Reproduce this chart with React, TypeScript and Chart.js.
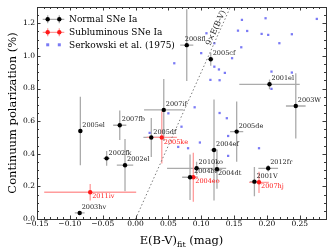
import React, { useEffect, useRef } from 'react';
import { Chart, registerables } from 'chart.js';

Chart.register(...registerables);

// ---- data ----
const normalNames = ['2005el', '2007fb', '2002fk', '2002el', '2003hv', '2005df', '2007if', '2008fl', '2005cf', '2001el', '2003W', '2005de', '2004ef', '2010ko', '2004br', '2004dt', '2012fr', '2001V'];
const normalEBV = [-0.084, -0.024, -0.044, -0.016, -0.085, 0.024, 0.043, 0.078, 0.1145, 0.204, 0.244, 0.154, 0.1195, 0.093, 0.083, 0.124, 0.202, 0.181];
const normalPol = [0.54, 0.575, 0.372, 0.33, 0.037, 0.5, 0.669, 1.066, 0.98, 0.826, 0.693, 0.536, 0.423, 0.311, 0.256, 0.305, 0.311, 0.229];
const normalEBVErr = [0.003, 0.01, 0.005, 0.0125, 0.0075, 0.012, 0.03, 0.01, 0.004, 0.046, 0.015, 0.01, 0.005, 0.045, 0.012, 0.008, 0.015, 0.007];
const normalPolErr = [0.21, 0.09, 0.045, 0.16, 0.01, 0.12, 0.19, 0.22, 0.04, 0.03, 0.2, 0.185, 0.31, 0.04, 0.14, 0.12, 0.02, 0.09];

const subNames = ['2011iv', '2005ke', '2004eo', '2007hj'];
const subEBV = [-0.069, 0.04, 0.088, 0.188];
const subPol = [0.164, 0.5, 0.256, 0.225];
const subEBVErr = [0.07, 0.023, 0.006, 0.015];
const subPolErr = [0.05, 0.16, 0.15, 0.065];

const serkowskiEBV = [0.108, 0.12, 0.1, 0.059, 0.12, 0.127, 0.136, 0.114, 0.128, 0.156, 0.09, 0.05, 0.07, 0.128, 0.139, 0.162, 0.198, 0.276, 0.17, 0.192, 0.202, 0.238, 0.219, 0.161, 0.147, 0.207, 0.238, 0.207, 0.141, 0.141, 0.188, 0.098, 0.08, 0.065, 0.0215];
const serkowskiPol = [1.139, 1.078, 1.017, 0.955, 0.934, 0.917, 0.896, 0.853, 0.851, 1.155, 0.685, 0.648, 0.566, 0.65, 0.618, 1.221, 1.231, 1.227, 1.153, 1.135, 1.129, 1.133, 1.078, 1.053, 0.986, 0.904, 0.898, 0.798, 0.509, 0.387, 0.434, 0.469, 0.434, 0.442, 0.528];

const serkowskiSlope = 9;
const xMin = -0.15;
const xMax = 0.29;
const yMin = 0;
const yMax = 1.3;
const xStep = 0.05;
const yStep = 0.2;

const legendLabels = ['Normal SNe Ia', 'Subluminous SNe Ia', 'Serkowski et al. (1975)'];
const lineLabel = '9×E(B-V)';

// ---- styles ----
const SERIF = '"DejaVu Serif", serif';
const GREY_ERR = '#ababab';
const RED_ERR = '#ff9c9c';
const RED = '#ff1a1a';
const BLUE = 'rgb(122,122,245)';
const labelNudge: Record<string, [number, number]> = {
  '2008fl': [-2, -5.5],
  '2004dt': [1, 4],
  '2004br': [4, -5.5],
};

function fmt(v: number, d: number) {
  const s = Math.abs(v) < 1e-9 ? (0).toFixed(d) : v.toFixed(d);
  return s.replace('-', '\u2212');
}

export default function App() {
  const ref = useRef<HTMLCanvasElement>(null);

  useEffect(() => {
    const canvas = ref.current;
    if (!canvas) return;

    const normalPts = normalEBV.map((v, i) => ({ x: v, y: normalPol[i] }));
    const subPts = subEBV.map((v, i) => ({ x: v, y: subPol[i] }));
    const serkPts = serkowskiEBV.map((v, i) => ({ x: v, y: serkowskiPol[i] }));
    const linePts = [
      { x: 0, y: 0 },
      { x: yMax / serkowskiSlope, y: yMax },
    ];

    const errPlugin = {
      id: 'errbars',
      beforeDatasetsDraw(chart: any) {
        const { ctx, scales } = chart;
        const sx = scales.x, sy = scales.y;
        ctx.save();
        ctx.beginPath();
        const a = chart.chartArea;
        ctx.rect(a.left, a.top, a.right - a.left, a.bottom - a.top);
        ctx.clip();
        ctx.lineWidth = 1.3;
        const group = (xs: number[], ys: number[], xe: number[], ye: number[], col: string) => {
          ctx.strokeStyle = col;
          for (let i = 0; i < xs.length; i++) {
            const px = sx.getPixelForValue(xs[i]);
            const py = sy.getPixelForValue(ys[i]);
            ctx.beginPath();
            ctx.moveTo(sx.getPixelForValue(xs[i] - xe[i]), py);
            ctx.lineTo(sx.getPixelForValue(xs[i] + xe[i]), py);
            ctx.moveTo(px, sy.getPixelForValue(ys[i] - ye[i]));
            ctx.lineTo(px, sy.getPixelForValue(ys[i] + ye[i]));
            ctx.stroke();
          }
        };
        group(normalEBV, normalPol, normalEBVErr, normalPolErr, GREY_ERR);
        group(subEBV, subPol, subEBVErr, subPolErr, RED_ERR);
        ctx.restore();
      },
      afterDatasetsDraw(chart: any) {
        const { ctx, scales } = chart;
        const sx = scales.x, sy = scales.y;
        ctx.save();
        ctx.font = `6.5px ${SERIF}`;
        ctx.textAlign = 'left';
        ctx.textBaseline = 'middle';
        const lab = (names: string[], xs: number[], ys: number[], col: string, below: boolean) => {
          ctx.fillStyle = col;
          for (let i = 0; i < names.length; i++) {
            const px = sx.getPixelForValue(xs[i]);
            const py = sy.getPixelForValue(ys[i]);
            const n = labelNudge[names[i]] || [2, below ? 4.5 : -5.5];
            ctx.fillText(names[i], px + n[0], py + n[1]);
          }
        };
        lab(normalNames, normalEBV, normalPol, '#222', false);
        lab(subNames, subEBV, subPol, RED, true);

        // line label
        const yl = 1.16;
        const xl = yl / serkowskiSlope;
        const p0x = sx.getPixelForValue(0), p0y = sy.getPixelForValue(0);
        const p1x = sx.getPixelForValue(xl), p1y = sy.getPixelForValue(yl);
        const ang = Math.atan2(p1y - p0y, p1x - p0x);
        ctx.translate(p1x, p1y);
        ctx.rotate(ang);
        ctx.font = `8px ${SERIF}`;
        ctx.fillStyle = '#222';
        ctx.textAlign = 'center';
        ctx.textBaseline = 'bottom';
        ctx.fillText(lineLabel, 0, -0.5);
        ctx.restore();
      },
      afterDraw(chart: any) {
        const { ctx, scales, chartArea: a } = chart;
        const sx = scales.x, sy = scales.y;
        ctx.save();
        ctx.strokeStyle = '#222';
        ctx.lineWidth = 0.9;
        // ticks
        ctx.beginPath();
        const nx0 = Math.round(xMin / 0.01), nx1 = Math.round(xMax / 0.01);
        for (let i = nx0; i <= nx1; i++) {
          const px = Math.round(sx.getPixelForValue(i * 0.01)) + 0.5;
          const len = i % 5 === 0 ? 3.5 : 2;
          ctx.moveTo(px, a.bottom); ctx.lineTo(px, a.bottom - len);
          ctx.moveTo(px, a.top); ctx.lineTo(px, a.top + len);
        }
        const ny1 = Math.round(yMax / 0.05);
        for (let i = 0; i <= ny1; i++) {
          const py = Math.round(sy.getPixelForValue(i * 0.05)) + 0.5;
          const len = i % 4 === 0 ? 3.5 : 2;
          ctx.moveTo(a.left, py); ctx.lineTo(a.left + len, py);
          ctx.moveTo(a.right, py); ctx.lineTo(a.right - len, py);
        }
        ctx.stroke();
        ctx.lineWidth = 1;
        ctx.strokeStyle = '#333';
        ctx.strokeRect(Math.round(a.left) + 0.5, Math.round(a.top) + 0.5, Math.round(a.right - a.left), Math.round(a.bottom - a.top));

        // tick labels
        ctx.fillStyle = '#000';
        ctx.font = `7.5px ${SERIF}`;
        ctx.textAlign = 'center';
        ctx.textBaseline = 'middle';
        const kx0 = Math.round(xMin / xStep), kx1 = Math.floor(xMax / xStep + 1e-9);
        for (let k = kx0; k <= kx1; k++) {
          const v = k * xStep;
          ctx.fillText(fmt(v, 2), sx.getPixelForValue(v), a.bottom + 5.5);
        }
        ctx.textAlign = 'right';
        const ky1 = Math.floor(yMax / yStep + 1e-9);
        for (let k = 0; k <= ky1; k++) {
          const v = k * yStep;
          ctx.fillText(fmt(v, 1), a.left - 2, sy.getPixelForValue(v));
        }

        // legend
        const rows = [19.3, 32.3, 44.8];
        const m1 = a.left + 10.7, m2 = a.left + 22.3;
        ctx.lineWidth = 1.3;
        const errLegend = (yy: number, ecol: string, mcol: string) => {
          ctx.strokeStyle = ecol;
          ctx.beginPath();
          ctx.moveTo(m1 - 5, yy); ctx.lineTo(m2 + 5, yy);
          ctx.moveTo(m1, yy - 4); ctx.lineTo(m1, yy + 4);
          ctx.moveTo(m2, yy - 4); ctx.lineTo(m2, yy + 4);
          ctx.stroke();
          ctx.fillStyle = mcol;
          for (const m of [m1, m2]) {
            ctx.beginPath(); ctx.arc(m, yy, 2.2, 0, Math.PI * 2); ctx.fill();
          }
        };
        errLegend(rows[0], GREY_ERR, '#000');
        errLegend(rows[1], RED_ERR, RED);
        ctx.fillStyle = BLUE;
        for (const m of [m1, m2]) ctx.fillRect(m - 1.5, rows[2] - 1.5, 3, 3);
        ctx.fillStyle = '#000';
        ctx.font = `9px ${SERIF}`;
        ctx.textAlign = 'left';
        ctx.textBaseline = 'middle';
        legendLabels.forEach((t, i) => ctx.fillText(t, a.left + 32, rows[i] + 0.5));

        // axis titles
        const cx = (a.left + a.right) / 2;
        const ty = 240;
        ctx.font = `11.5px ${SERIF}`;
        const t1 = 'E(B-V)', t3 = ' (mag)';
        const w1 = ctx.measureText(t1).width;
        const w3 = ctx.measureText(t3).width;
        ctx.font = `8px ${SERIF}`;
        const w2 = ctx.measureText('fit').width;
        const x0 = cx - (w1 + w2 + w3) / 2;
        ctx.textBaseline = 'alphabetic';
        ctx.font = `11.5px ${SERIF}`;
        ctx.fillText(t1, x0, ty + 4);
        ctx.font = `8px ${SERIF}`;
        ctx.fillText('fit', x0 + w1, ty + 6.5);
        ctx.font = `11.5px ${SERIF}`;
        ctx.fillText(t3, x0 + w1 + w2, ty + 4);

        ctx.translate(13, (a.top + a.bottom) / 2);
        ctx.rotate(-Math.PI / 2);
        ctx.textAlign = 'center';
        ctx.textBaseline = 'middle';
        ctx.fillText('Continuum polarization (%)', 0, 0);
        ctx.restore();
      },
    };

    const chart = new Chart(canvas, {
      type: 'scatter',
      data: {
        datasets: [
          {
            type: 'line',
            data: linePts,
            borderColor: '#7a7a7a',
            borderWidth: 1,
            borderDash: [1.5, 2.2],
            pointRadius: 0,
            fill: false,
          } as any,
          {
            data: normalPts,
            backgroundColor: '#000',
            borderColor: '#000',
            pointRadius: 2.2,
            borderWidth: 0,
          },
          {
            data: subPts,
            backgroundColor: RED,
            borderColor: RED,
            pointRadius: 2.2,
            borderWidth: 0,
          },
          {
            data: serkPts,
            pointStyle: 'rect',
            backgroundColor: BLUE,
            borderColor: BLUE,
            pointRadius: 1.6,
            borderWidth: 0,
          },
        ],
      },
      options: {
        animation: false,
        responsive: false,
        devicePixelRatio: 1,
        layout: { padding: { top: 7, right: 8, left: 0, bottom: 0 } },
        plugins: { legend: { display: false }, tooltip: { enabled: false } },
        scales: {
          x: {
            type: 'linear',
            min: xMin,
            max: xMax,
            grid: { display: false, drawTicks: false },
            border: { display: false },
            ticks: { display: false, stepSize: xStep, includeBounds: false },
            afterFit: (s: any) => { s.height = 32; },
          },
          y: {
            type: 'linear',
            min: yMin,
            max: yMax,
            grid: { display: false, drawTicks: false },
            border: { display: false },
            ticks: { display: false, stepSize: yStep, includeBounds: false },
            afterFit: (s: any) => { s.width = 37; },
          },
        },
      } as any,
      plugins: [errPlugin],
    });
    return () => chart.destroy();
  }, []);

  return (
    <div style={{ position: 'absolute', left: 0, top: 0, width: 334, height: 251, background: '#fff' }}>
      <canvas ref={ref} width={334} height={251} style={{ display: 'block' }} />
    </div>
  );
}
